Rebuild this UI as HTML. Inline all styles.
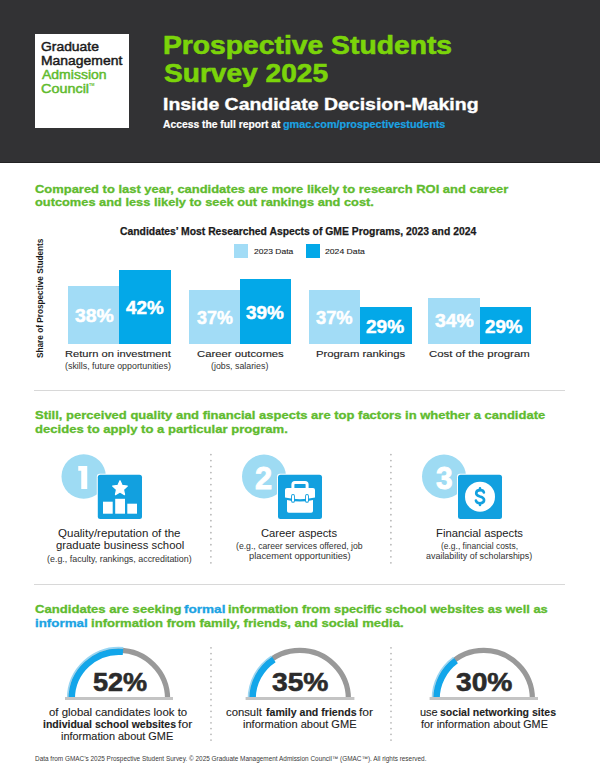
<!DOCTYPE html>
<html><head><meta charset="utf-8"><style>
html,body{margin:0;padding:0;background:#fff;}
body{width:600px;height:766px;position:relative;overflow:hidden;font-family:"Liberation Sans",sans-serif;}
.t{position:absolute;white-space:nowrap;transform-origin:0 0;}
.a{position:absolute;}
</style></head><body>
<div class="a" style="left:0;top:0;width:600px;height:162.5px;background:#323234;"></div>
<div class="a" style="left:0;top:161.6px;width:600px;height:1px;background:#232324;"></div>
<div class="a" style="left:35px;top:34px;width:94px;height:94px;background:#fff;"></div>
<!-- chart legend -->
<div class="a" style="left:234.2px;top:243.5px;width:13.8px;height:14px;background:#a2dcf6;"></div>
<div class="a" style="left:306.3px;top:243.5px;width:13.5px;height:14px;background:#03a8e8;"></div>
<!-- bars -->
<div class="a" style="left:68px;top:286px;width:51px;height:58px;background:#a2dcf6;"></div>
<div class="a" style="left:119px;top:269.6px;width:51.6px;height:74.4px;background:#03a8e8;"></div>
<div class="a" style="left:189px;top:290px;width:50.6px;height:54px;background:#a2dcf6;"></div>
<div class="a" style="left:239.6px;top:279.4px;width:51.6px;height:64.6px;background:#03a8e8;"></div>
<div class="a" style="left:308.6px;top:290px;width:51.4px;height:54px;background:#a2dcf6;"></div>
<div class="a" style="left:360px;top:307.4px;width:52px;height:36.6px;background:#03a8e8;"></div>
<div class="a" style="left:428px;top:297.6px;width:51.6px;height:46.4px;background:#a2dcf6;"></div>
<div class="a" style="left:479.6px;top:307.4px;width:51.8px;height:36.6px;background:#03a8e8;"></div>
<!-- separators -->
<div class="a" style="left:34px;top:389.8px;width:531px;height:1px;background:#d8d8d8;"></div>
<div class="a" style="left:34px;top:583.8px;width:530.5px;height:1px;background:#d8d8d8;"></div>
<!-- dotted -->
<svg class="a" style="left:0;top:0" width="600" height="766">
  <g fill="#b4b4b4">
    <circle cx="210.9" cy="454.6" r="0.85"/>
<circle cx="210.9" cy="460.6" r="0.85"/>
<circle cx="210.9" cy="466.6" r="0.85"/>
<circle cx="210.9" cy="472.6" r="0.85"/>
<circle cx="210.9" cy="478.6" r="0.85"/>
<circle cx="210.9" cy="484.6" r="0.85"/>
<circle cx="210.9" cy="490.7" r="0.85"/>
<circle cx="210.9" cy="496.7" r="0.85"/>
<circle cx="210.9" cy="502.7" r="0.85"/>
<circle cx="210.9" cy="508.7" r="0.85"/>
<circle cx="210.9" cy="514.7" r="0.85"/>
<circle cx="210.9" cy="520.7" r="0.85"/>
<circle cx="210.9" cy="526.7" r="0.85"/>
<circle cx="210.9" cy="532.7" r="0.85"/>
<circle cx="210.9" cy="538.7" r="0.85"/>
<circle cx="210.9" cy="544.7" r="0.85"/>
<circle cx="210.9" cy="550.8" r="0.85"/>
<circle cx="210.9" cy="556.8" r="0.85"/>
<circle cx="210.9" cy="562.8" r="0.85"/>
<circle cx="390.9" cy="454.6" r="0.85"/>
<circle cx="390.9" cy="460.6" r="0.85"/>
<circle cx="390.9" cy="466.6" r="0.85"/>
<circle cx="390.9" cy="472.6" r="0.85"/>
<circle cx="390.9" cy="478.6" r="0.85"/>
<circle cx="390.9" cy="484.6" r="0.85"/>
<circle cx="390.9" cy="490.7" r="0.85"/>
<circle cx="390.9" cy="496.7" r="0.85"/>
<circle cx="390.9" cy="502.7" r="0.85"/>
<circle cx="390.9" cy="508.7" r="0.85"/>
<circle cx="390.9" cy="514.7" r="0.85"/>
<circle cx="390.9" cy="520.7" r="0.85"/>
<circle cx="390.9" cy="526.7" r="0.85"/>
<circle cx="390.9" cy="532.7" r="0.85"/>
<circle cx="390.9" cy="538.7" r="0.85"/>
<circle cx="390.9" cy="544.7" r="0.85"/>
<circle cx="390.9" cy="550.8" r="0.85"/>
<circle cx="390.9" cy="556.8" r="0.85"/>
<circle cx="390.9" cy="562.8" r="0.85"/>
<circle cx="211.0" cy="647.8" r="0.85"/>
<circle cx="211.0" cy="653.6" r="0.85"/>
<circle cx="211.0" cy="659.3" r="0.85"/>
<circle cx="211.0" cy="665.1" r="0.85"/>
<circle cx="211.0" cy="670.9" r="0.85"/>
<circle cx="211.0" cy="676.6" r="0.85"/>
<circle cx="211.0" cy="682.4" r="0.85"/>
<circle cx="211.0" cy="688.2" r="0.85"/>
<circle cx="211.0" cy="694.0" r="0.85"/>
<circle cx="211.0" cy="699.7" r="0.85"/>
<circle cx="211.0" cy="705.5" r="0.85"/>
<circle cx="211.0" cy="711.3" r="0.85"/>
<circle cx="211.0" cy="717.0" r="0.85"/>
<circle cx="211.0" cy="722.8" r="0.85"/>
<circle cx="211.0" cy="728.6" r="0.85"/>
<circle cx="211.0" cy="734.3" r="0.85"/>
<circle cx="211.0" cy="740.1" r="0.85"/>
<circle cx="391.0" cy="647.8" r="0.85"/>
<circle cx="391.0" cy="653.6" r="0.85"/>
<circle cx="391.0" cy="659.3" r="0.85"/>
<circle cx="391.0" cy="665.1" r="0.85"/>
<circle cx="391.0" cy="670.9" r="0.85"/>
<circle cx="391.0" cy="676.6" r="0.85"/>
<circle cx="391.0" cy="682.4" r="0.85"/>
<circle cx="391.0" cy="688.2" r="0.85"/>
<circle cx="391.0" cy="694.0" r="0.85"/>
<circle cx="391.0" cy="699.7" r="0.85"/>
<circle cx="391.0" cy="705.5" r="0.85"/>
<circle cx="391.0" cy="711.3" r="0.85"/>
<circle cx="391.0" cy="717.0" r="0.85"/>
<circle cx="391.0" cy="722.8" r="0.85"/>
<circle cx="391.0" cy="728.6" r="0.85"/>
<circle cx="391.0" cy="734.3" r="0.85"/>
<circle cx="391.0" cy="740.1" r="0.85"/>
  </g>
</svg>
<!-- icons -->
<svg class="a" style="left:0;top:0" width="600" height="766">
  <g>
    <circle cx="83.7" cy="476.5" r="22.2" fill="#9edbf3"/>
    <circle cx="264" cy="476.5" r="22" fill="#9edbf3"/>
    <circle cx="444" cy="476.5" r="22" fill="#9edbf3"/>
    <rect x="96.8" y="473.7" width="46.2" height="46.2" rx="3" fill="#fff"/>
    <rect x="277" y="473.7" width="46" height="46.2" rx="3" fill="#fff"/>
    <rect x="457" y="473.7" width="46" height="46.2" rx="3" fill="#fff"/>
    <rect x="97.8" y="474.7" width="44.2" height="44.2" rx="2.5" fill="#12a0df"/>
    <rect x="278" y="474.7" width="44" height="44.2" rx="2.5" fill="#12a0df"/>
    <rect x="458" y="474.7" width="44" height="44.2" rx="2.5" fill="#12a0df"/>
  </g>
</svg>
<!-- gauges -->
<svg class="a" style="left:0;top:0" width="600" height="766">
  <path d="M70.40,699.00 A48.6,48.6 0 0 1 167.60,699.00" fill="none" stroke="#999999" stroke-width="5.2"/>
<path d="M71.70,699.00 A47.3,47.3 0 0 1 123.01,651.87" fill="none" stroke="#12a6ea" stroke-width="6.5"/>
<path d="M67.65,699.00 A51.35,51.35 0 0 1 123.35,647.83" fill="none" stroke="#98d6f4" stroke-width="1.6"/>
<rect x="65" y="697" width="108.0" height="3" fill="#c4c4c4"/>
<path d="M251.20,699.00 A48.6,48.6 0 0 1 348.40,699.00" fill="none" stroke="#999999" stroke-width="5.2"/>
<path d="M252.50,699.00 A47.3,47.3 0 0 1 273.83,659.47" fill="none" stroke="#12a6ea" stroke-width="6.5"/>
<path d="M248.45,699.00 A51.35,51.35 0 0 1 271.61,656.08" fill="none" stroke="#98d6f4" stroke-width="1.6"/>
<rect x="245.6" y="697" width="108.8" height="3" fill="#c4c4c4"/>
<path d="M435.20,699.00 A48.6,48.6 0 0 1 532.40,699.00" fill="none" stroke="#999999" stroke-width="5.2"/>
<path d="M436.50,699.00 A47.3,47.3 0 0 1 456.00,660.73" fill="none" stroke="#12a6ea" stroke-width="6.5"/>
<path d="M432.45,699.00 A51.35,51.35 0 0 1 453.62,657.46" fill="none" stroke="#98d6f4" stroke-width="1.6"/>
<rect x="429.6" y="697" width="108.4" height="3" fill="#c4c4c4"/>
</svg>

<svg class="a" style="left:0;top:0" width="600" height="766"><path d="M120.00,480.70 L122.17,485.41 L127.32,486.02 L123.52,489.54 L124.53,494.63 L120.00,492.10 L115.47,494.63 L116.48,489.54 L112.68,486.02 L117.83,485.41Z" fill="#fff" stroke="#fff" stroke-width="1.2" stroke-linejoin="round"/>
<path d="M78.25,466 H87.25 V489 H81.25 V470.75 H78.25 Z" fill="#fff"/>
<rect x="103" y="501.7" width="9.7" height="12" fill="#fff"/>
<rect x="115.2" y="498.8" width="9.8" height="14.9" fill="#fff"/>
<rect x="127.3" y="503.7" width="9.7" height="10" fill="#fff"/>
<path d="M292.9,489 V484.6 Q292.9,482.6 294.9,482.6 H305.1 Q307.1,482.6 307.1,484.6 V489" fill="none" stroke="#fff" stroke-width="3"/>
<path d="M285,490 Q285,488 287,488 H313 Q315,488 315,490 V497.6 Q300,501 285,497.6 Z" fill="#fff"/>
<path d="M287,500 Q300,503 313,500 V510.9 Q313,512.7 311.2,512.7 H288.8 Q287,512.7 287,510.9 Z" fill="#fff"/>
<rect x="291.1" y="494" width="3.8" height="8.8" rx="1.9" fill="#12a0df"/>
<rect x="292" y="495" width="2" height="6.8" rx="1" fill="#fff"/>
<rect x="305.1" y="494" width="3.8" height="8.8" rx="1.9" fill="#12a0df"/>
<rect x="306" y="495" width="2" height="6.8" rx="1" fill="#fff"/>
<circle cx="480" cy="496.7" r="15" fill="#fff"/>
<path d="M483.9,492.5 C483.6,490.9 482.1,490.1 480.1,490.1 C477.7,490.1 476.2,491.4 476.2,493.2 C476.2,495.2 478.0,495.9 480.0,496.5 C482.3,497.1 484.1,497.9 484.1,500.1 C484.1,502.1 482.4,503.2 480.0,503.2 C477.8,503.2 476.2,502.3 475.9,500.6" fill="none" stroke="#12a0df" stroke-width="2.6" stroke-linecap="round"/>
<path d="M480,488.4 V490 M480,503.3 V505" stroke="#12a0df" stroke-width="2.6" stroke-linecap="round"/></svg>
<div class="t" style="left:41.34px;top:40.79px;font-size:12.60px;line-height:12.60px;transform:scaleX(1.1025);-webkit-text-stroke:0.45px currentColor;"><span style="font-weight:normal;color:#1b1b1b">Graduate</span></div>
<div class="t" style="left:40.89px;top:54.59px;font-size:12.60px;line-height:12.60px;transform:scaleX(1.1055);-webkit-text-stroke:0.45px currentColor;"><span style="font-weight:normal;color:#1b1b1b">Management</span></div>
<div class="t" style="left:42.00px;top:69.29px;font-size:12.60px;line-height:12.60px;transform:scaleX(1.1114);-webkit-text-stroke:0.45px currentColor;"><span style="font-weight:normal;color:#60bb2e">Admission</span></div>
<div class="t" style="left:41.31px;top:83.19px;font-size:12.60px;line-height:12.60px;transform:scaleX(1.1447);-webkit-text-stroke:0.45px currentColor;"><span style="font-weight:normal;color:#60bb2e">Council</span></div>
<div class="t" style="left:89.20px;top:83.64px;font-size:3.60px;line-height:3.60px;transform:scaleX(1.0602);"><span style="font-weight:bold;color:#60bb2e">TM</span></div>
<div class="t" style="left:163.02px;top:33.34px;font-size:25.60px;line-height:25.60px;transform:scaleX(1.1045);-webkit-text-stroke:0.6px currentColor;"><span style="font-weight:bold;color:#7bd40a">Prospective Students</span></div>
<div class="t" style="left:164.13px;top:61.24px;font-size:25.60px;line-height:25.60px;transform:scaleX(1.0978);-webkit-text-stroke:0.6px currentColor;"><span style="font-weight:bold;color:#7bd40a">Survey 2025</span></div>
<div class="t" style="left:162.91px;top:96.46px;font-size:16.40px;line-height:16.40px;transform:scaleX(1.1864);-webkit-text-stroke:0.35px currentColor;"><span style="font-weight:bold;color:#ffffff">Inside Candidate Decision-Making</span></div>
<div class="t" style="left:163.30px;top:119.66px;font-size:10.40px;line-height:10.40px;transform:scaleX(0.9923);-webkit-text-stroke:0.2px currentColor;"><span style="font-weight:bold;color:#ffffff">Access the full report at</span></div>
<div class="t" style="left:282.88px;top:119.66px;font-size:10.40px;line-height:10.40px;transform:scaleX(1.0415);-webkit-text-stroke:0.2px currentColor;"><span style="font-weight:bold;color:#1ba3e3">gmac.com/prospectivestudents</span></div>
<div class="t" style="left:35.25px;top:182.64px;font-size:11.60px;line-height:11.60px;transform:scaleX(1.1163);-webkit-text-stroke:0.3px currentColor;"><span style="font-weight:bold;color:#60bb2e">Compared to last year, candidates are more likely to research ROI and career</span></div>
<div class="t" style="left:35.26px;top:196.24px;font-size:11.60px;line-height:11.60px;transform:scaleX(1.1049);-webkit-text-stroke:0.3px currentColor;"><span style="font-weight:bold;color:#60bb2e">outcomes and less likely to seek out rankings and cost.</span></div>
<div class="t" style="left:120.32px;top:226.32px;font-size:10.80px;line-height:10.80px;transform:scaleX(0.9601);-webkit-text-stroke:0.25px currentColor;"><span style="font-weight:bold;color:#1a1a1a">Candidates’ Most Researched Aspects of GME Programs, 2023 and 2024</span></div>
<div class="t" style="left:253.66px;top:248.04px;font-size:7.60px;line-height:7.60px;transform:scaleX(1.1192);-webkit-text-stroke:0.1px currentColor;"><span style="font-weight:normal;color:#222">2023 Data</span></div>
<div class="t" style="left:325.36px;top:248.04px;font-size:7.60px;line-height:7.60px;transform:scaleX(1.1365);-webkit-text-stroke:0.1px currentColor;"><span style="font-weight:normal;color:#222">2024 Data</span></div>
<div class="t" style="left:74.58px;top:306.71px;font-size:18.57px;line-height:18.57px;transform:scaleX(1.0452);-webkit-text-stroke:0.5px currentColor;"><span style="font-weight:bold;color:#ffffff">38%</span></div>
<div class="t" style="left:125.80px;top:298.71px;font-size:18.57px;line-height:18.57px;transform:scaleX(1.0121);-webkit-text-stroke:0.5px currentColor;"><span style="font-weight:bold;color:#ffffff">42%</span></div>
<div class="t" style="left:196.61px;top:308.71px;font-size:18.57px;line-height:18.57px;transform:scaleX(0.9627);-webkit-text-stroke:0.5px currentColor;"><span style="font-weight:bold;color:#ffffff">37%</span></div>
<div class="t" style="left:246.19px;top:303.71px;font-size:18.57px;line-height:18.57px;transform:scaleX(1.0177);-webkit-text-stroke:0.5px currentColor;"><span style="font-weight:bold;color:#ffffff">39%</span></div>
<div class="t" style="left:316.21px;top:308.71px;font-size:18.57px;line-height:18.57px;transform:scaleX(0.9847);-webkit-text-stroke:0.5px currentColor;"><span style="font-weight:bold;color:#ffffff">37%</span></div>
<div class="t" style="left:366.37px;top:317.80px;font-size:18.00px;line-height:18.00px;transform:scaleX(1.0565);-webkit-text-stroke:0.5px currentColor;"><span style="font-weight:bold;color:#ffffff">29%</span></div>
<div class="t" style="left:434.57px;top:312.16px;font-size:18.29px;line-height:18.29px;transform:scaleX(1.0633);-webkit-text-stroke:0.5px currentColor;"><span style="font-weight:bold;color:#ffffff">34%</span></div>
<div class="t" style="left:485.38px;top:317.80px;font-size:18.00px;line-height:18.00px;transform:scaleX(1.0394);-webkit-text-stroke:0.5px currentColor;"><span style="font-weight:bold;color:#ffffff">29%</span></div>
<div class="t" style="left:0;top:0;font-size:8.30px;line-height:8.30px;transform:translate(42.8px,298.35px) rotate(-90deg) scaleX(0.9919) translate(-60.13px,-7.06px);"><span style="font-weight:bold;color:#1a1a1a">Share of Prospective Students</span></div>
<div class="t" style="left:65.16px;top:350.20px;font-size:9.30px;line-height:9.30px;transform:scaleX(1.1971);-webkit-text-stroke:0.12px currentColor;"><span style="font-weight:normal;color:#1e1e1e">Return on investment</span></div>
<div class="t" style="left:65.46px;top:363.13px;font-size:8.20px;line-height:8.20px;transform:scaleX(1.0819);"><span style="font-weight:normal;color:#333">(skills, future opportunities)</span></div>
<div class="t" style="left:196.51px;top:350.20px;font-size:9.30px;line-height:9.30px;transform:scaleX(1.2167);-webkit-text-stroke:0.12px currentColor;"><span style="font-weight:normal;color:#1e1e1e">Career outcomes</span></div>
<div class="t" style="left:211.06px;top:363.13px;font-size:8.20px;line-height:8.20px;transform:scaleX(1.0766);"><span style="font-weight:normal;color:#333">(jobs, salaries)</span></div>
<div class="t" style="left:315.95px;top:350.20px;font-size:9.30px;line-height:9.30px;transform:scaleX(1.2147);-webkit-text-stroke:0.12px currentColor;"><span style="font-weight:normal;color:#1e1e1e">Program rankings</span></div>
<div class="t" style="left:428.71px;top:350.20px;font-size:9.30px;line-height:9.30px;transform:scaleX(1.2260);-webkit-text-stroke:0.12px currentColor;"><span style="font-weight:normal;color:#1e1e1e">Cost of the program</span></div>
<div class="t" style="left:35.36px;top:410.41px;font-size:11.40px;line-height:11.40px;transform:scaleX(1.1417);-webkit-text-stroke:0.3px currentColor;"><span style="font-weight:bold;color:#60bb2e">Still, perceived quality and financial aspects are top factors in whether a candidate</span></div>
<div class="t" style="left:35.24px;top:423.61px;font-size:11.40px;line-height:11.40px;transform:scaleX(1.1478);-webkit-text-stroke:0.3px currentColor;"><span style="font-weight:bold;color:#60bb2e">decides to apply to a particular program.</span></div>
<div class="t" style="left:255.24px;top:462.88px;font-size:31.20px;line-height:31.20px;transform:scaleX(0.9872);-webkit-text-stroke:0.9px currentColor;"><span style="font-weight:bold;color:#ffffff">2</span></div>
<div class="t" style="left:435.73px;top:463.08px;font-size:31.20px;line-height:31.20px;transform:scaleX(0.9573);-webkit-text-stroke:0.9px currentColor;"><span style="font-weight:bold;color:#ffffff">3</span></div>
<div class="t" style="left:58.25px;top:528.83px;font-size:10.20px;line-height:10.20px;transform:scaleX(1.1327);"><span style="font-weight:normal;color:#222">Quality/reputation of the</span></div>
<div class="t" style="left:55.56px;top:541.13px;font-size:10.20px;line-height:10.20px;transform:scaleX(1.1098);"><span style="font-weight:normal;color:#222">graduate business school</span></div>
<div class="t" style="left:47.47px;top:554.66px;font-size:8.40px;line-height:8.40px;transform:scaleX(1.0616);"><span style="font-weight:normal;color:#333">(e.g., faculty, rankings, accreditation)</span></div>
<div class="t" style="left:261.45px;top:528.83px;font-size:10.20px;line-height:10.20px;transform:scaleX(1.1015);"><span style="font-weight:normal;color:#222">Career aspects</span></div>
<div class="t" style="left:235.98px;top:542.16px;font-size:8.40px;line-height:8.40px;transform:scaleX(1.0356);"><span style="font-weight:normal;color:#333">(e.g., career services offered, job</span></div>
<div class="t" style="left:249.35px;top:552.16px;font-size:8.40px;line-height:8.40px;transform:scaleX(1.1078);"><span style="font-weight:normal;color:#333">placement opportunities)</span></div>
<div class="t" style="left:436.42px;top:528.83px;font-size:10.20px;line-height:10.20px;transform:scaleX(1.1054);"><span style="font-weight:normal;color:#222">Financial aspects</span></div>
<div class="t" style="left:440.80px;top:542.16px;font-size:8.40px;line-height:8.40px;transform:scaleX(1.0088);"><span style="font-weight:normal;color:#333">(e.g., financial costs,</span></div>
<div class="t" style="left:426.48px;top:552.06px;font-size:8.40px;line-height:8.40px;transform:scaleX(1.0665);"><span style="font-weight:normal;color:#333">availability of scholarships)</span></div>
<div class="t" style="left:35.24px;top:604.11px;font-size:11.40px;line-height:11.40px;transform:scaleX(1.1505);-webkit-text-stroke:0.3px currentColor;"><span style="font-weight:bold;color:#60bb2e">Candidates are seeking</span></div>
<div class="t" style="left:184.28px;top:604.11px;font-size:11.40px;line-height:11.40px;transform:scaleX(1.1892);-webkit-text-stroke:0.3px currentColor;"><span style="font-weight:bold;color:#1ba3e3">formal</span></div>
<div class="t" style="left:227.91px;top:604.11px;font-size:11.40px;line-height:11.40px;transform:scaleX(1.1246);-webkit-text-stroke:0.3px currentColor;"><span style="font-weight:bold;color:#60bb2e">information from specific school websites as well as</span></div>
<div class="t" style="left:35.18px;top:617.81px;font-size:11.40px;line-height:11.40px;transform:scaleX(1.1723);-webkit-text-stroke:0.3px currentColor;"><span style="font-weight:bold;color:#1ba3e3">informal</span></div>
<div class="t" style="left:90.70px;top:617.81px;font-size:11.40px;line-height:11.40px;transform:scaleX(1.1496);-webkit-text-stroke:0.3px currentColor;"><span style="font-weight:bold;color:#60bb2e">information from family, friends, and social media.</span></div>
<div class="t" style="left:92.58px;top:669.14px;font-size:26.30px;line-height:26.30px;transform:scaleX(1.0298);-webkit-text-stroke:0.6px currentColor;"><span style="font-weight:bold;color:#2b2b2b">52%</span></div>
<div class="t" style="left:271.56px;top:669.14px;font-size:26.30px;line-height:26.30px;transform:scaleX(1.0722);-webkit-text-stroke:0.6px currentColor;"><span style="font-weight:bold;color:#2b2b2b">35%</span></div>
<div class="t" style="left:455.56px;top:669.14px;font-size:26.30px;line-height:26.30px;transform:scaleX(1.0722);-webkit-text-stroke:0.6px currentColor;"><span style="font-weight:bold;color:#2b2b2b">30%</span></div>
<div class="t" style="left:48.86px;top:708.16px;font-size:10.40px;line-height:10.40px;transform:scaleX(1.0969);-webkit-text-stroke:0.1px currentColor;"><span style="font-weight:normal;color:#222">of global candidates look to</span></div>
<div class="t" style="left:43.29px;top:720.16px;font-size:10.40px;line-height:10.40px;transform:scaleX(1.0101);-webkit-text-stroke:0.1px currentColor;"><span style="font-weight:bold;color:#222">individual school websites</span></div>
<div class="t" style="left:178.08px;top:720.16px;font-size:10.40px;line-height:10.40px;transform:scaleX(1.1791);-webkit-text-stroke:0.1px currentColor;"><span style="font-weight:normal;color:#222">for</span></div>
<div class="t" style="left:60.67px;top:732.46px;font-size:10.40px;line-height:10.40px;transform:scaleX(1.0500);-webkit-text-stroke:0.1px currentColor;"><span style="font-weight:normal;color:#222">information about GME</span></div>
<div class="t" style="left:226.27px;top:708.16px;font-size:10.40px;line-height:10.40px;transform:scaleX(1.0871);-webkit-text-stroke:0.1px currentColor;"><span style="font-weight:normal;color:#222">consult</span></div>
<div class="t" style="left:265.80px;top:708.16px;font-size:10.40px;line-height:10.40px;transform:scaleX(1.0179);-webkit-text-stroke:0.1px currentColor;"><span style="font-weight:bold;color:#222">family and friends</span></div>
<div class="t" style="left:359.38px;top:708.16px;font-size:10.40px;line-height:10.40px;transform:scaleX(1.1623);-webkit-text-stroke:0.1px currentColor;"><span style="font-weight:normal;color:#222">for</span></div>
<div class="t" style="left:242.86px;top:720.16px;font-size:10.40px;line-height:10.40px;transform:scaleX(1.0623);-webkit-text-stroke:0.1px currentColor;"><span style="font-weight:normal;color:#222">information about GME</span></div>
<div class="t" style="left:420.37px;top:708.16px;font-size:10.40px;line-height:10.40px;transform:scaleX(1.0580);-webkit-text-stroke:0.1px currentColor;"><span style="font-weight:normal;color:#222">use</span></div>
<div class="t" style="left:440.30px;top:708.16px;font-size:10.40px;line-height:10.40px;transform:scaleX(1.0145);-webkit-text-stroke:0.1px currentColor;"><span style="font-weight:bold;color:#222">social networking sites</span></div>
<div class="t" style="left:420.70px;top:720.16px;font-size:10.40px;line-height:10.40px;transform:scaleX(1.0409);-webkit-text-stroke:0.1px currentColor;"><span style="font-weight:normal;color:#222">for information about GME</span></div>
<div class="t" style="left:34.81px;top:755.89px;font-size:6.60px;line-height:6.60px;transform:scaleX(0.9740);"><span style="font-weight:normal;color:#3a3a3a">Data from GMAC’s 2025 Prospective Student Survey. © 2025 Graduate Management Admission Council™ (GMAC™). All rights reserved.</span></div>
</body></html>
